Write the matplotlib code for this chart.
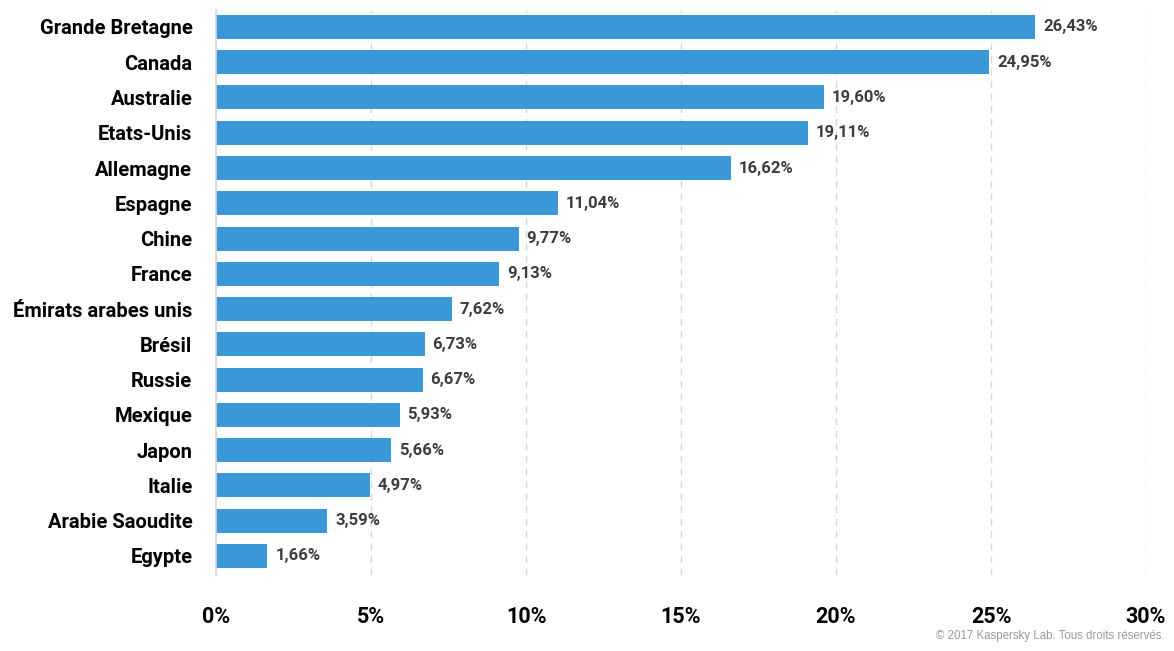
import matplotlib
matplotlib.use("Agg")
import matplotlib.pyplot as plt

pays = ["Grande Bretagne", "Canada", "Australie", "Etats-Unis", "Allemagne",
        "Espagne", "Chine", "France", "Émirats arabes unis", "Brésil", "Russie",
        "Mexique", "Japon", "Italie", "Arabie Saoudite", "Egypte"]
valeurs = [26.43, 24.95, 19.60, 19.11, 16.62, 11.04, 9.77, 9.13, 7.62, 6.73,
           6.67, 5.93, 5.66, 4.97, 3.59, 1.66]
ticks = [0, 5, 10, 15, 20, 25, 30]

police = ["Roboto", "DejaVu Sans"]

fig = plt.figure(figsize=(11.74, 6.51), dpi=100)
ax = fig.add_axes([216/1174, 1-575/651, (1146-216)/1174, (575-10)/651])

y = list(range(len(pays)))
ax.barh(y, valeurs, height=0.68, color="#3a98d8", zorder=2)
for i, v in enumerate(valeurs):
    ax.text(v + 0.25, i, f"{v:.2f}%".replace(".", ","), va="center", ha="left",
            fontsize=12, fontweight="bold", color="#3c3c3c", family=police)

ax.set_xlim(0, 30)
ax.set_ylim(15.54, -0.48)
ax.set_yticks(y)
ax.set_yticklabels(pays, fontsize=14.5, fontweight="bold", family=police)
ax.set_xticks(ticks)
ax.set_xticklabels([f"{t}%" for t in ticks], fontsize=15.5, fontweight="bold", family=police)
ax.tick_params(axis="both", length=0)
ax.tick_params(axis="y", pad=17)
ax.tick_params(axis="x", pad=22)
for s in ["top", "right", "bottom"]:
    ax.spines[s].set_visible(False)
ax.spines["left"].set_color("#d8d8d8")
ax.spines["left"].set_linewidth(1.2)
ax.grid(axis="x", linestyle=(0, (5, 4)), color="#d8d8d8", linewidth=1, zorder=0)
ax.set_axisbelow(True)

fig.text(1165/1174, 1-636/651, "© 2017 Kaspersky Lab. Tous droits réservés.",
         ha="right", va="center", fontsize=8.3, color="#9a9a9a", family="Liberation Sans")

fig.savefig("out.png", dpi=100)
